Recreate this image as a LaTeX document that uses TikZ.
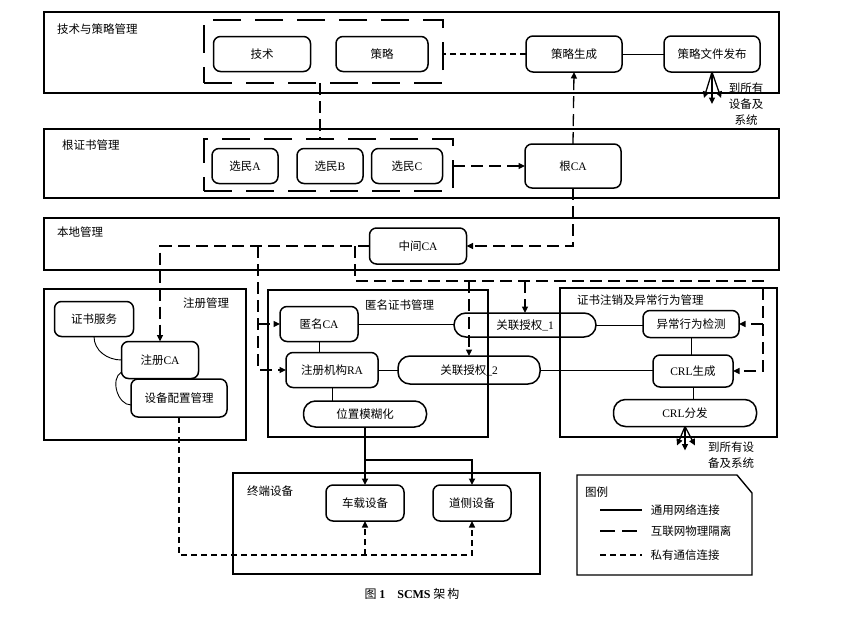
\documentclass[tikz,border=0pt]{standalone}
\usepackage{fontspec}
\setmainfont{Noto Sans CJK SC}
\newfontfamily\lat{Liberation Serif}
\usetikzlibrary{arrows.meta}

\tikzset{
  frame/.style={line width=1.4pt},
  blk/.style={draw, line width=1.5pt, rounded corners=7pt, inner sep=1pt, outer sep=0pt},
  pill/.style={blk, rounded corners=12pt},
  grpbox/.style={draw, line width=1.6pt, dash pattern=on 28pt off 14pt, inner sep=0pt, outer sep=0pt},
  lbl/.style={inner sep=0pt, anchor=west},
  isol/.style={line width=1.3pt, dash pattern=on 12pt off 6pt},
  priv/.style={line width=1.3pt, dash pattern=on 6pt off 4pt},
  conn/.style={line width=0.9pt},
  heavy/.style={line width=1.9pt},
  >={Triangle[length=6.5pt,width=6pt]}
}

\begin{document}
\begin{tikzpicture}[x=1pt, y=-1pt, font=\fontsize{11.5}{16}\selectfont]
\useasboundingbox (0,0) rectangle (856,619);

\draw[frame] (44,12) rectangle (779,93);
\draw[frame] (44,129) rectangle (779,198);
\draw[frame] (44,218) rectangle (779,270);
\draw[frame] (44,289) rectangle (246,440);
\draw[frame] (268,290) rectangle (488,437);
\draw[frame] (560,288) rectangle (777,437);
\draw[frame] (233,473) rectangle (540,574);

\node[lbl] (ttop) at (57,29) {技术与策略管理};
\node[lbl] (troot) at (62,145) {根证书管理};
\node[lbl] (tlocal) at (57,232) {本地管理};
\node[lbl] (treg) at (183,303) {注册管理};
\node[lbl] (tanon) at (365,305) {匿名证书管理};
\node[lbl] (trev) at (577,300) {证书注销及异常行为管理};
\node[lbl] (tend) at (247,491) {终端设备};

\node[grpbox, minimum width=239pt, minimum height=63pt] (grp1) at (323.5,51.5) {};
\node[blk, minimum width=97pt, minimum height=35pt] (jishu) at (262,54) {技术};
\node[blk, minimum width=92pt, minimum height=35pt] (celue) at (382,54) {策略};
\node[blk, minimum width=96pt, minimum height=36pt] (shengcheng) at (574,54) {策略生成};
\node[blk, minimum width=96pt, minimum height=36pt] (fabu) at (712,54) {策略文件发布};
\node[align=center, inner sep=0pt] (tofabu) at (746,104) {到所有\\设备及\\系统};

\node[grpbox, minimum width=249pt, minimum height=52pt] (grp2) at (328.5,165) {};
\node[blk, minimum width=66pt, minimum height=35pt] (voterA) at (245,166) {选民{\lat A}};
\node[blk, minimum width=66pt, minimum height=35pt] (voterB) at (330,166) {选民{\lat B}};
\node[blk, minimum width=71pt, minimum height=35pt] (voterC) at (407,166) {选民{\lat C}};
\node[blk, minimum width=96pt, minimum height=44pt] (rootca) at (573,166) {根{\lat CA}};

\node[blk, minimum width=97pt, minimum height=36pt] (zhongjian) at (418,246) {中间{\lat CA}};

\node[blk, minimum width=79pt, minimum height=35pt] (zhengshu) at (94,319) {证书服务};
\node[blk, minimum width=77pt, minimum height=37pt] (zhuceca) at (160,360) {注册{\lat CA}};
\node[blk, minimum width=96pt, minimum height=38pt] (shebei) at (179,398) {设备配置管理};

\node[blk, minimum width=78pt, minimum height=35pt] (anonca) at (319,324) {匿名{\lat CA}};
\node[blk, minimum width=92pt, minimum height=35pt] (ra) at (332,370) {注册机构{\lat RA}};
\node[pill, minimum width=123pt, minimum height=26pt] (blur) at (365,414) {位置模糊化};
\node[pill, minimum width=142pt, minimum height=24pt] (gl1) at (525,325) {关联授权{\lat\_1}};
\node[pill, minimum width=142pt, minimum height=28pt] (gl2) at (469,370) {关联授权{\lat\_2}};

\node[blk, minimum width=96pt, minimum height=27pt] (yichang) at (691,324) {异常行为检测};
\node[blk, minimum width=80pt, minimum height=32pt] (crlgen) at (693,371) {{\lat CRL}生成};
\node[pill, minimum width=143pt, minimum height=27pt] (crlfen) at (685,413) {{\lat CRL}分发};
\node[align=center, inner sep=0pt] (tocrl) at (731,455) {到所有设\\备及系统};

\node[blk, minimum width=78pt, minimum height=36pt] (chezai) at (365,503) {车载设备};
\node[blk, minimum width=78pt, minimum height=36pt] (daoce) at (472,503) {道侧设备};

\node[font=\fontsize{12}{14}\selectfont] (caption) at (412,594) {图\ {\lat\bfseries 1}\quad{\lat\bfseries SCMS} 架\,构};

\coordinate (vT) at (320,0);
\coordinate (vA) at (258,0);
\coordinate (vB) at (355,281);
\coordinate (vC) at (763,281);
\coordinate (hD) at (0,555);
\coordinate (hE) at (0,460);

\draw[priv] (shengcheng.west) -- (shengcheng.west -| grp1.east);
\draw[conn] (shengcheng) -- (fabu);
\foreach \dx/\dy in {-8/26,0/32,9/26}
  \draw[line width=1.3pt,->] (fabu.south) -- ++(\dx,\dy);
\draw[isol] (grp1.south -| vT) -- (grp2.north -| vT);
\draw[isol,->] (grp2.east |- rootca.west) -- (rootca.west);
\draw[isol,->] (rootca.north) -- (shengcheng.south);
\draw[isol,->] (rootca.south) |- (zhongjian.east);

\draw[isol,->] (zhongjian.west) -| (zhuceca.north);
\draw[isol,->] (zhongjian.west -| vA) |- (ra.west);
\draw[isol,->] (anonca.west -| vA) -- (anonca.west);
\draw[isol,->] (zhongjian.west -| vB) -- (vB) -- (vC) |- (crlgen.east);
\draw[isol,->] (yichang.east -| vC) -- (yichang.east);
\draw[isol,->] (gl1.north |- vB) -- (gl1.north);
\draw[isol,->] (gl2.north |- vB) -- (gl2.north);

\draw[conn] (zhengshu.south) to[out=-90, in=180] (zhuceca.west);
\draw[conn] ([yshift=-12pt]zhuceca.west) to[out=-150, in=180] ([yshift=-7pt]shebei.west);

\draw[conn] (anonca.east) -- (anonca.east -| gl1.west);
\draw[conn] (gl1.east) -- (gl1.east -| yichang.west);
\draw[conn] (anonca.south) -- (anonca.south |- ra.north);
\draw[conn] (ra.east) -- (ra.east -| gl2.west);
\draw[conn] (gl2.east) -- (gl2.east -| crlgen.west);
\draw[conn] (ra.south) -- (ra.south |- blur.north);
\draw[conn] (yichang.south) -- (yichang.south |- crlgen.north);
\draw[conn] (crlgen.south) -- (crlgen.south |- crlfen.north);
\foreach \dx/\dy in {-8/19,0/24,10/19}
  \draw[line width=1.3pt,->] (crlfen.south) -- ++(\dx,\dy);

\draw[heavy,->] (blur.south) -- (chezai.north);
\draw[heavy,->] (blur.south |- hE) -| (daoce.north);
\draw[priv,->] (shebei.south) |- (hD -| daoce.south) -- (daoce.south);
\draw[priv,->] (hD -| chezai.south) -- (chezai.south);

\draw[frame] (577,475) -- (737,475) -- (752,493) -- (752,575) -- (577,575) -- cycle;
\node[lbl] (tlegend) at (585,492) {图例};
\coordinate (lg1) at (600,510);
\coordinate (lg2) at (600,531);
\coordinate (lg3) at (600,555);
\draw[line width=1.6pt] (lg1) -- ++(42,0) node[lbl, right=8pt] (lgt1) {通用网络连接};
\draw[isol, line width=1.6pt, dash pattern=on 15pt off 7pt] (lg2) -- ++(42,0) node[lbl, right=8pt] (lgt2) {互联网物理隔离};
\draw[priv] (lg3) -- ++(42,0) node[lbl, right=8pt] (lgt3) {私有通信连接};
\end{tikzpicture}
\end{document}
